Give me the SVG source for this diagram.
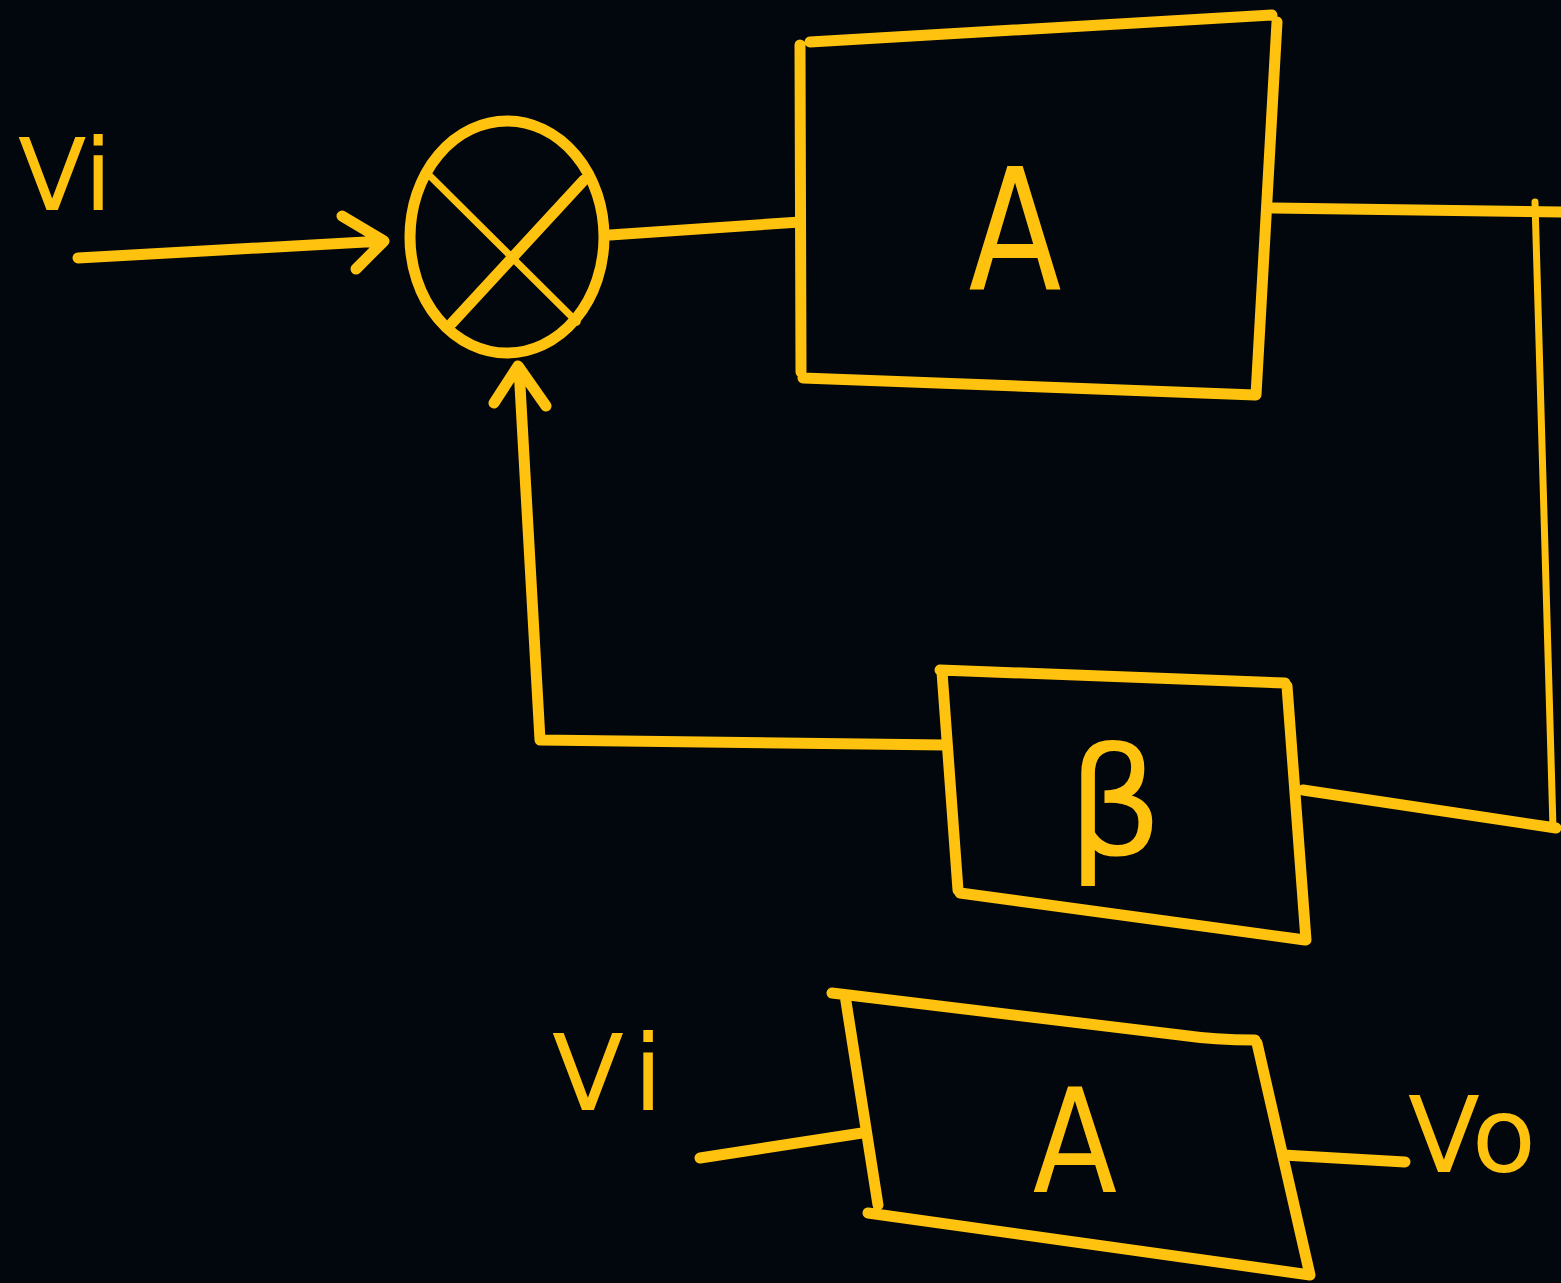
<svg xmlns="http://www.w3.org/2000/svg" width="1561" height="1283" viewBox="0 0 1561 1283">
  <style>
    .s{fill:none;stroke:#FFC20E;stroke-width:11;stroke-linecap:round;stroke-linejoin:round}
    .t{stroke-width:7}
    .lbl{fill:#FFC20E;font-family:"DejaVu Sans","Liberation Sans",sans-serif}
  </style>
  <rect width="1561" height="1283" fill="#02060D"/>
  <g id="label-vi-top"><text class="lbl" x="18" y="210" font-size="100">Vi</text></g>
  <g id="sum-junction">
    <ellipse class="s" cx="507" cy="237" rx="97" ry="116"/>
    <path class="s t" d="M430 176 L577 322"/>
    <path class="s" d="M584 180 L452 323"/>
  </g>
  <g id="block-A">
    <path class="s" d="M810 42 L1272 15 M1277 22 L1256 395 M1255 395 L803 378 M800 45 L801 372"/>
    <text class="lbl" x="0" y="0" font-size="170" text-anchor="middle" transform="translate(1015 290) scale(0.8 1)">A</text>
  </g>
  <g id="block-beta">
    <path class="s" d="M940 670 L1285 683 M1287 686 L1306 940 M1305 940 L960 893 M942 672 L958 890"/>
    <text class="lbl" x="1115" y="855" font-size="150" text-anchor="middle">β</text>
  </g>
  <g id="block-A-simple">
    <path class="s" d="M832 993 L1180 1035 Q1215 1040 1255 1040 M1257 1043 L1310 1275 M868 1213 L1310 1275 M845 995 L878 1205"/>
    <text class="lbl" x="0" y="0" font-size="145" text-anchor="middle" transform="translate(1075 1192) scale(0.85 1)">A</text>
  </g>
  <g id="label-vi-bottom"><text class="lbl" x="552" y="1110" font-size="105" letter-spacing="12">Vi</text></g>
  <g id="label-vo"><text class="lbl" x="1408" y="1172" font-size="105">Vo</text></g>
  <g id="connectors">
    <path class="s" d="M78 258 L383 241 M342 216 L384 241 L356 269"/>
    <path class="s" d="M610 235 L800 222"/>
    <path class="s" d="M1273 208 L1561 212"/>
    <path class="s t" d="M1535 202 L1553 828"/>
    <path class="s" d="M1303 790 L1556 828"/>
    <path class="s" d="M945 745 L540 740 L519 368 M494 403 L518 366 L546 406"/>
    <path class="s" d="M700 1158 L862 1133"/>
    <path class="s" d="M1283 1155 L1405 1162"/>
  </g>
</svg>
